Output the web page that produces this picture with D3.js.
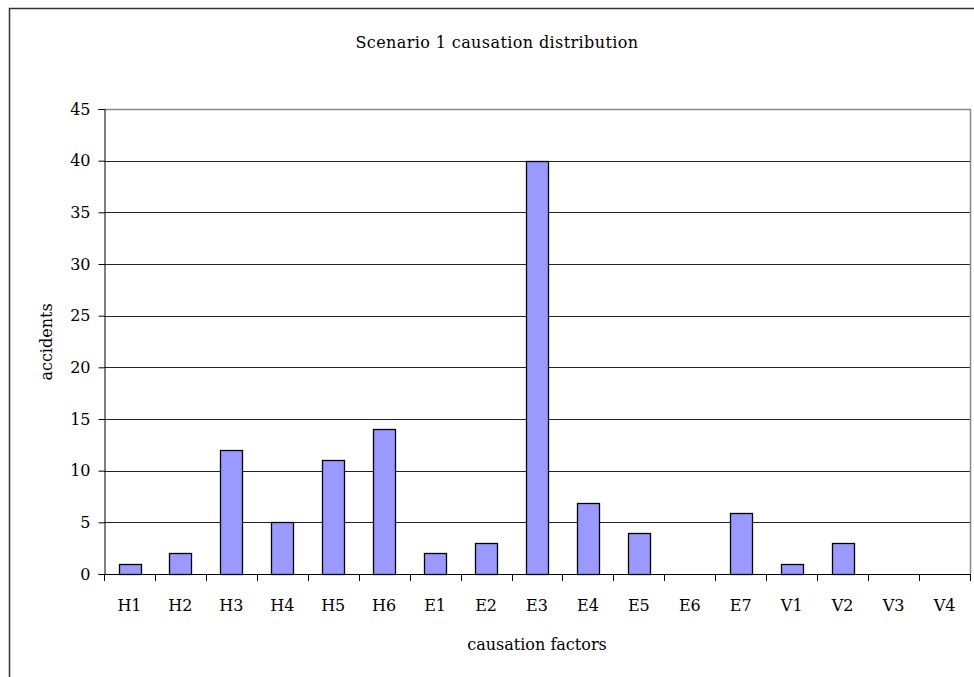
<!DOCTYPE html>
<html>
<head>
<meta charset="utf-8">
<script src="https://cdn.jsdelivr.net/npm/d3@7"></script>
<style>
  body { margin: 0; background: #fff; }
  text { font-family: "DejaVu Serif", "Liberation Serif", serif; fill: #000; }
</style>
</head>
<body>
<script>
var width = 974;
var height = 677;

var categories = ["H1", "H2", "H3", "H4", "H5", "H6", "E1", "E2", "E3", "E4", "E5", "E6", "E7", "V1", "V2", "V3", "V4"];
var accidents = [1, 2, 12, 5, 11, 14, 2, 3, 40, 6.9, 4, 0, 5.9, 1, 3, 0, 0];
var yTicks = [0, 5, 10, 15, 20, 25, 30, 35, 40, 45];

var plot = {left: 104, right: 970, top: 109, bottom: 574};

var svg = d3.select("body").append("svg")
    .attr("width", width).attr("height", height);

// outer chart frame (runs off the right and bottom edge)
svg.append("rect")
    .attr("x", 9.5).attr("y", 8.5)
    .attr("width", width + 20).attr("height", height + 20)
    .attr("fill", "none").attr("stroke", "#333").attr("stroke-width", 1.5);

var x = d3.scaleBand().domain(categories)
    .range([plot.left, plot.right])
    .paddingInner(0.57).paddingOuter(0.285);

var y = d3.scaleLinear().domain([0, 45]).range([plot.bottom, plot.top]);

// gridlines
svg.append("g").selectAll("line").data(yTicks.filter(function (d) { return d > 0 && d < 45; }))
    .enter().append("line")
    .attr("x1", plot.left).attr("x2", plot.right)
    .attr("y1", function (d) { return Math.round(y(d)) + 0.5; })
    .attr("y2", function (d) { return Math.round(y(d)) + 0.5; })
    .attr("stroke", "#222").attr("stroke-width", 1);

// plot area border (top + right, grey)
svg.append("path")
    .attr("d", "M" + plot.left + "," + (plot.top + 0.5) + "H" + (plot.right + 0.5) + "V" + plot.bottom)
    .attr("fill", "none").attr("stroke", "#888").attr("stroke-width", 1.5);

// bars
svg.append("g").selectAll("rect").data(accidents).enter().append("rect")
    .attr("x", function (d, i) { return Math.round(x(categories[i])) + 0.5; })
    .attr("y", function (d) { return Math.round(y(d)) + 0.5; })
    .attr("width", Math.round(x.bandwidth()))
    .attr("height", function (d) { return Math.round(y(0)) - Math.round(y(d)); })
    .attr("fill", function (d) { return d > 0 ? "#9999ff" : "none"; })
    .attr("stroke", function (d) { return d > 0 ? "#000" : "none"; })
    .attr("stroke-width", 1.3);

// y axis
var yAxis = d3.axisLeft(y).tickValues(yTicks).tickSize(6).tickPadding(8);
var gy = svg.append("g").attr("transform", "translate(" + (plot.left + 0.5) + ",0)").call(yAxis);
gy.select(".domain").attr("stroke", "#000");
gy.selectAll(".tick line").attr("stroke", "#000");
gy.selectAll(".tick text").attr("font-size", "16px").attr("font-family", "DejaVu Serif");

// x axis: ticks at category boundaries
var boundaries = d3.range(categories.length + 1).map(function (i) { return plot.left + i * (plot.right - plot.left) / categories.length; });
svg.append("line")
    .attr("x1", plot.left).attr("x2", plot.right)
    .attr("y1", plot.bottom + 0.5).attr("y2", plot.bottom + 0.5)
    .attr("stroke", "#000");
svg.append("g").selectAll("line").data(boundaries).enter().append("line")
    .attr("x1", function (d) { return Math.round(d) + 0.5; })
    .attr("x2", function (d) { return Math.round(d) + 0.5; })
    .attr("y1", plot.bottom).attr("y2", plot.bottom + 7)
    .attr("stroke", "#000");
svg.append("g").selectAll("text").data(categories).enter().append("text")
    .attr("x", function (d) { return x(d) + x.bandwidth() / 2; })
    .attr("y", 611)
    .attr("text-anchor", "middle")
    .attr("font-size", "16px")
    .text(function (d) { return d; });

// titles
svg.append("text")
    .attr("x", 497).attr("y", 48)
    .attr("text-anchor", "middle").attr("font-size", "16px")
    .attr("letter-spacing", "0.4px")
    .text("Scenario 1 causation distribution");

svg.append("text")
    .attr("x", (plot.left + plot.right) / 2).attr("y", 650)
    .attr("text-anchor", "middle").attr("font-size", "16px")
    .text("causation factors");

svg.append("text")
    .attr("transform", "translate(52,342) rotate(-90)")
    .attr("text-anchor", "middle").attr("font-size", "16px")
    .text("accidents");
</script>
</body>
</html>
